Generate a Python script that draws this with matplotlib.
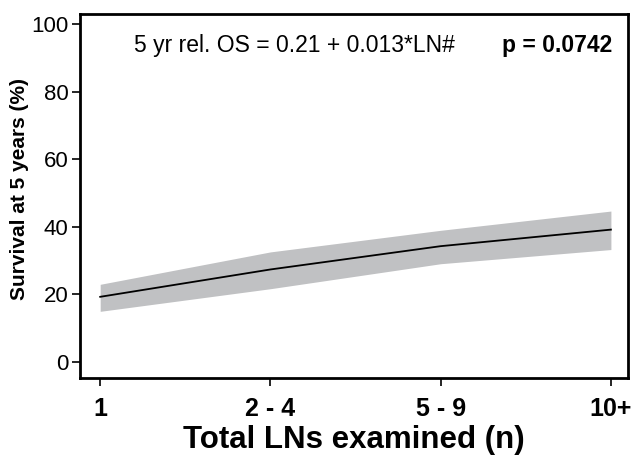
import matplotlib.pyplot as plt

plt.rcParams['font.family'] = ['Liberation Sans', 'DejaVu Sans']

# LN groups and 5-year survival (%)
groups = ['1', '2 - 4', '5 - 9', '10+']
survival = [19.3, 27.4, 34.3, 39.2]
upper_ci = [23.0, 32.6, 39.0, 44.7]
lower_ci = [15.0, 21.7, 29.1, 33.3]

fig = plt.figure(figsize=(6.33, 4.58), dpi=100)
ax = fig.add_axes([0.126, 0.175, 0.866, 0.794])

xs = list(range(len(groups)))
ax.fill_between(xs, lower_ci, upper_ci, color='#c0c1c3', linewidth=0)
ax.plot(xs, survival, color='black', linewidth=1.3)

ax.set_xlim(-0.12, 3.1)
ax.set_ylim(-4.7, 103)
ax.set_xticks(xs)
ax.set_xticklabels(groups, fontsize=18, fontweight='bold')
ax.set_yticks([0, 20, 40, 60, 80, 100])
ax.tick_params(axis='y', labelsize=16, length=6, width=1.2, direction='out', pad=2)
ax.tick_params(axis='x', length=6, width=1.2, direction='out', pad=8)
for s in ax.spines.values():
    s.set_linewidth(2)

ax.set_xlabel('Total LNs examined (n)', fontsize=22.5, fontweight='bold', labelpad=3)
ax.set_ylabel('Survival at 5 years (%)', fontsize=15, fontweight='bold')
ax.yaxis.set_label_coords(-0.092, 0.52)

ax.text(0.2, 93.8, '5 yr rel. OS = 0.21 + 0.013*LN#', fontsize=16.5, va='center', ha='left')
ax.text(3.006, 93.8, 'p = 0.0742', fontsize=16.5, fontweight='bold', va='center', ha='right')

fig.savefig('out.png', dpi=100)
